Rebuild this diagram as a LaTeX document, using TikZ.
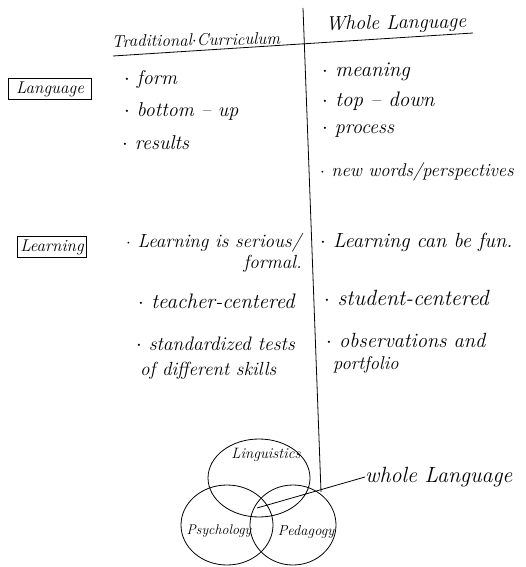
\documentclass[tikz,border=0pt]{standalone}
\usetikzlibrary{shapes.geometric,positioning}
\begin{document}
\begin{tikzpicture}[x=1pt, y=-1pt,
    sz/.style={font=\fontsize{#1}{#1}\selectfont\itshape},
    note/.style={sz=20, anchor=west, inner sep=0pt},
    head/.style={sz=16, inner sep=0pt},
    topic/.style={draw, thick, sz=17, inner sep=3pt},
    venn/.style={ellipse, draw, thick, inner sep=0pt},
    small/.style={sz=14, inner sep=0pt}]
    \useasboundingbox (0,0) rectangle (525,567);

    % divider and header line
    \coordinate (divtop) at (303,8);
    \coordinate (divbot) at (321,492);
    \draw[thick] (divtop) -- (divbot);
    \coordinate (ulleft) at (113,56);
    \coordinate (ulright) at (473,33);
    \draw[thick] (ulleft) -- (ulright);

    \node[head, sz=17, rotate=1] (trad) at (196,40) {Traditional$\cdot$Curriculum};
    \node[head, sz=20, rotate=1] (whole) at (396,24) {Whole Language};

    % Language row
    \node[topic, inner xsep=8pt] (lang) at (50,89) {Language};
    \node[note] (form) at (124,80) {$\cdot$ form};
    \node[note] (bottomup) at (124,112) {$\cdot$ bottom -- up};
    \node[note] (results) at (122,143) {$\cdot$ results};
    \node[note, sz=21] (meaning) at (322,72) {$\cdot$ meaning};
    \node[note, sz=21] (topdown) at (322,101) {$\cdot$ top -- down};
    \node[note] (process) at (322,131) {$\cdot$ process};
    \node[note, sz=18.5] (newwords) at (320,172) {$\cdot$ new words/perspectives};

    % Learning row
    \node[topic] (learn) at (52,247) {Learning};
    \node[note, sz=19] (serious) at (126,243) {$\cdot$ Learning is serious/};
    \node[note, sz=19, anchor=east] (formal) at (302,264) {formal.};
    \node[note, sz=21] (teacher) at (138,301) {$\cdot$ teacher-centered};
    \node[note, sz=19.5] (stdtests) at (136,344) {$\cdot$ standardized tests};
    \node[note, sz=19] (skills) at (140,371) {of different skills};
    \node[note, sz=20.5] (fun) at (320,242) {$\cdot$ Learning can be fun.};
    \node[note, sz=22] (student) at (324,298) {$\cdot$ student-centered};
    \node[note, sz=20.5] (observ) at (326,340) {$\cdot$ observations and};
    \node[note, sz=18.5] (portf) at (333,365) {portfolio};

    % Venn
    \node[venn, minimum width=102pt, minimum height=78pt] (ling) at (259,478) {};
    \node[venn, minimum width=92pt, minimum height=80pt] (psych) at (227,525) {};
    \node[venn, minimum width=86pt, minimum height=80pt] (peda) at (293,525) {};
    \node[small, sz=15] (lingtext) at (266,455) {Linguistics};
    \node[small] (psychtext) at (219,531) {Psychology};
    \node[small, sz=14.5] (pedatext) at (306,532) {Pedagogy};
    \coordinate (core) at (257,508);
    \node[note, sz=22] (wl) at (365,477) {whole Language};
    \draw[thick] (core) -- (wl.west);
\end{tikzpicture}
\end{document}
